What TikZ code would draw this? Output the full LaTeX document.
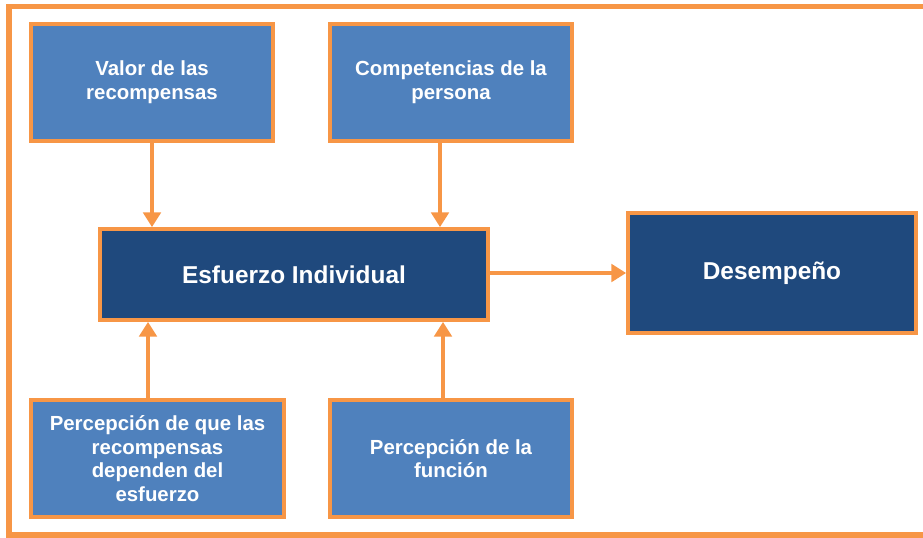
\documentclass[tikz,border=0pt]{standalone}
\usepackage{fontspec}
\setmainfont{Liberation Sans}
\usetikzlibrary{arrows.meta}
\definecolor{orng}{HTML}{F79646}
\definecolor{lblue}{HTML}{4F81BD}
\definecolor{dblue}{HTML}{1F497D}
\tikzset{
  lightbox/.style={draw=orng, line width=2.8pt, fill=lblue, text=white, font=\bfseries\fontsize{15.3}{17.8}\selectfont, align=center, inner sep=0pt},
  darkbox/.style={draw=orng, line width=2.8pt, fill=dblue, text=white, font=\bfseries\fontsize{18.3}{21}\selectfont, align=center, inner sep=0pt},
  conn/.style={draw=orng, line width=3.6pt, -{Triangle[length=11pt,width=13pt]}}
}
\begin{document}
\begin{tikzpicture}[x=0.75pt,y=-0.75pt]
\useasboundingbox (0,0) rectangle (923,537);
\draw[orng, line width=3.8pt] (923,6.5) -- (9,6.5) -- (9,535) -- (923,535);
\node[lightbox, minimum width=242*0.75pt, minimum height=117*0.75pt] (valor) at (152,82.5) {Valor de las\\recompensas};
\node[lightbox, minimum width=242*0.75pt, minimum height=117*0.75pt] (comp) at (451,82.5) {Competencias de la\\persona};
\node[darkbox, minimum width=388*0.75pt, minimum height=91*0.75pt] (esf) at (294,274.5) {Esfuerzo Individual};
\node[darkbox, minimum width=288*0.75pt, minimum height=120*0.75pt] (des) at (772,273) {Desempeño};
\node[lightbox, minimum width=253*0.75pt, minimum height=117*0.75pt] (perc) at (157.5,458.5) {Percepción de que las\\recompensas\\dependen del\\esfuerzo};
\node[lightbox, minimum width=242*0.75pt, minimum height=117*0.75pt] (func) at (451,458.5) {Percepción de la\\función};
\draw[conn] (valor.south -| 152,0) -- (esf.north -| 152,0);
\draw[conn] (comp.south -| 440,0) -- (esf.north -| 440,0);
\draw[conn] (perc.north -| 148,0) -- (esf.south -| 148,0);
\draw[conn] (func.north -| 443,0) -- (esf.south -| 443,0);
\draw[conn] (esf.east |- 0,273) -- (des.west |- 0,273);
\end{tikzpicture}
\end{document}
